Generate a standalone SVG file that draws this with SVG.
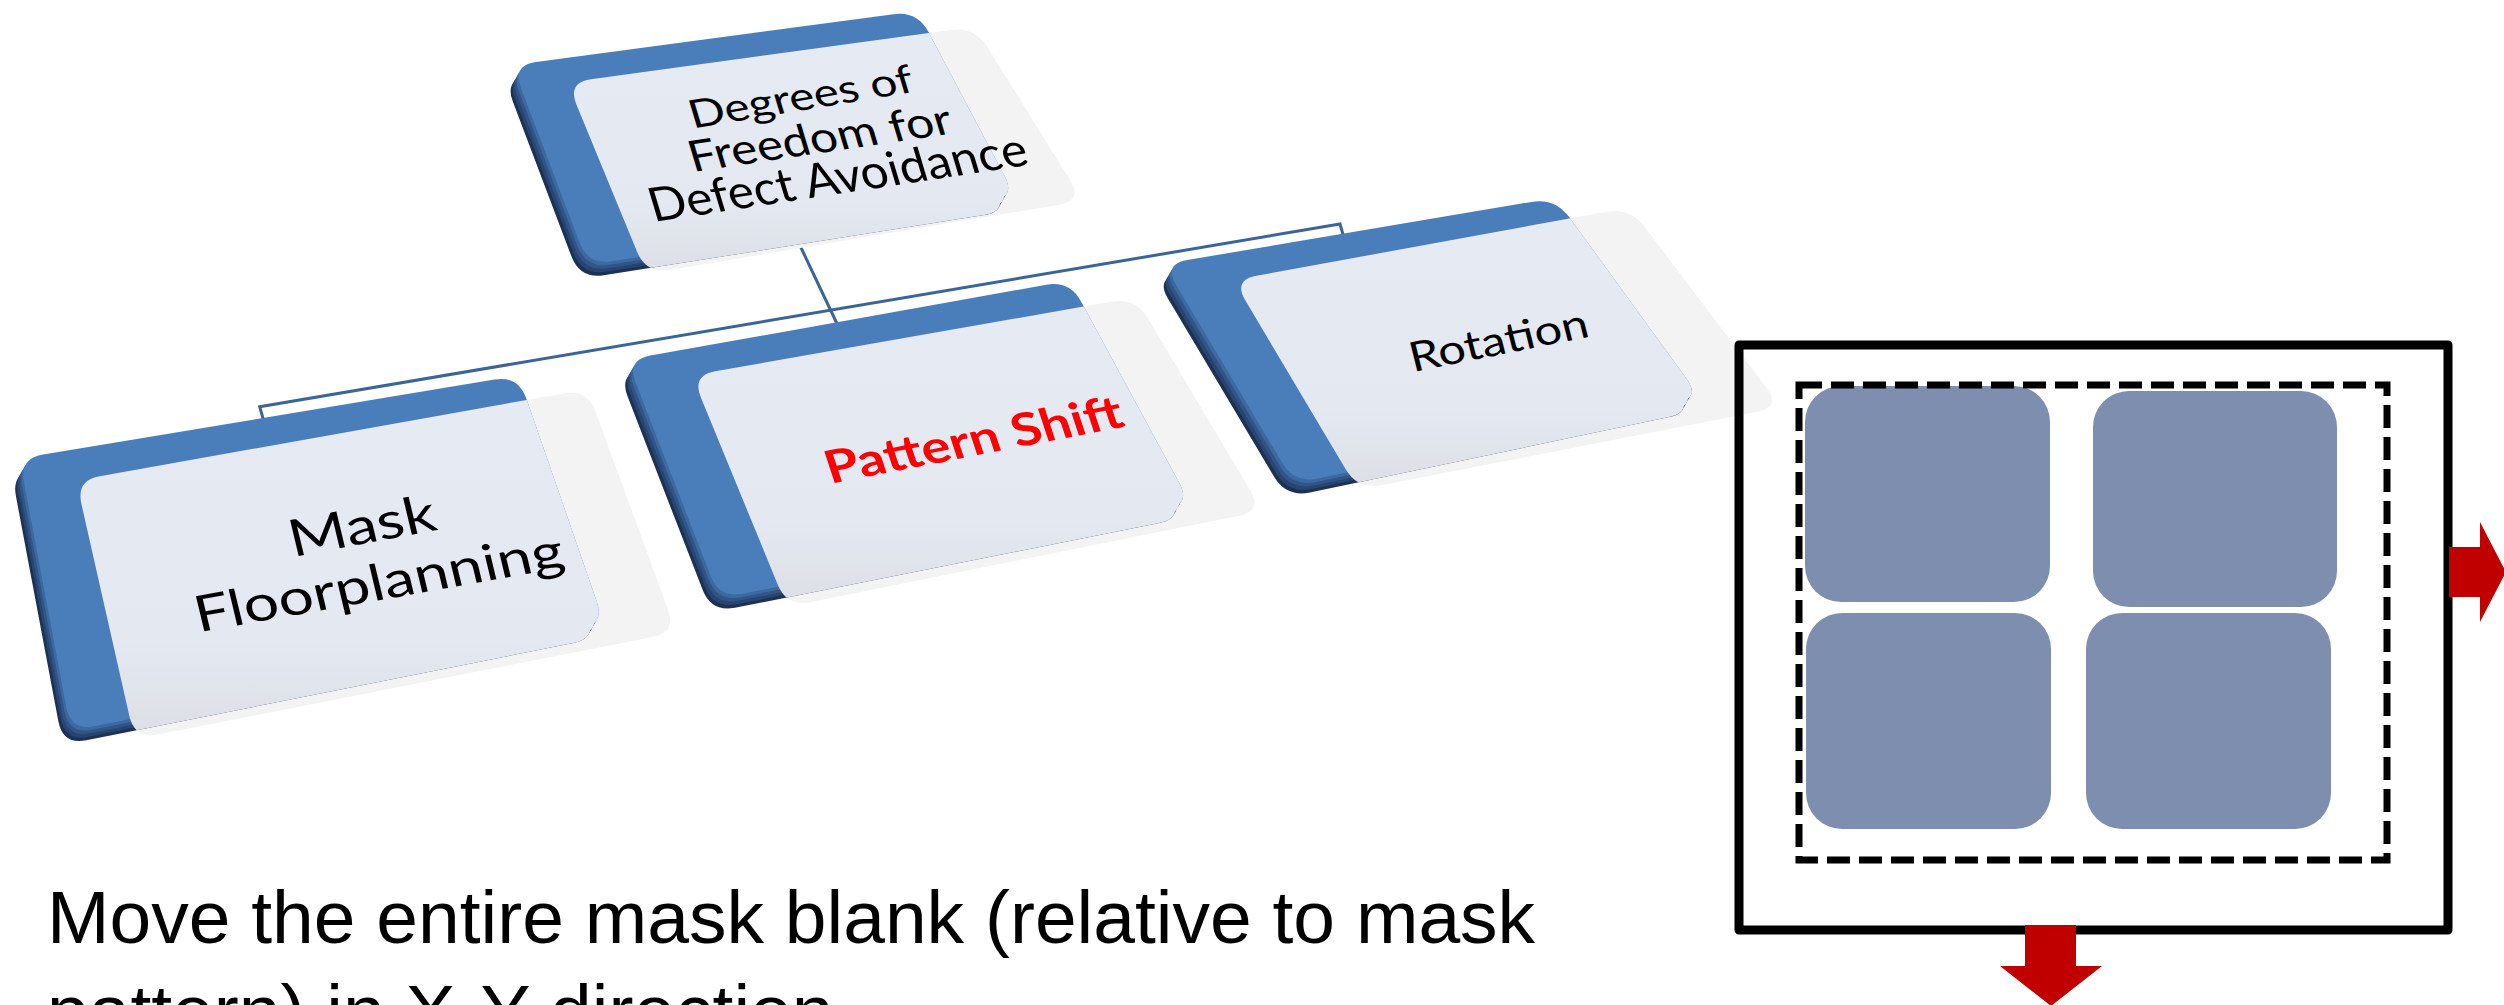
<svg xmlns="http://www.w3.org/2000/svg" xmlns:xlink="http://www.w3.org/1999/xlink" width="2504" height="1005" viewBox="0 0 2504 1005">
  <defs>
    <style>
      .plate-gray { fill: #F3F3F3; }
      .plate-face { fill: url(#faceGrad); }
      .x4 { fill: #1D3253; }
      .x3 { fill: #284470; }
      .x2 { fill: #315587; }
      .x1 { fill: #3C69A0; }
      .cap { fill: #4A7EBB; }
      .lbl { font-family: Lato, "Open Sans", "Noto Sans", sans-serif; text-anchor: middle; fill: #000000; }
      .hot { fill: #FF0000; font-weight: 700; }
      .conn { stroke: #3B6597; stroke-width: 3; fill: none; stroke-linejoin: miter; }
      .die { fill: #7E8EAF; }
      .push { fill: #C00000; }
      .caption { font-family: "Liberation Sans", Arial, sans-serif; font-size: 75px; fill: #000000; }
    </style>
    <linearGradient id="faceGrad" x1="0" y1="0" x2="0" y2="1">
      <stop offset="0" stop-color="#E6EBF3"/>
      <stop offset="0.72" stop-color="#E4E9F1"/>
      <stop offset="1" stop-color="#DCDFE5"/>
    </linearGradient>

    <!-- key-cap top faces and glass plates, one pair per node -->
    <path id="face-top" d="M536.1,62 L893.6,14.2 Q917.4,11 928.6,32.2 L1004.6,176.1 Q1015.8,197.3 992.1,201.1 L611.7,261.3 Q588,265 579.5,242.6 L520.8,87.6 Q512.3,65.2 536.1,62 Z"/>
    <path id="plate-top" d="M591.1,79.3 L950.9,29.9 Q974.7,26.6 987.4,47 L1070.1,180.3 Q1082.7,200.7 1059,204.7 L669.9,270 Q646.2,274 637.1,251.8 L576.5,104.8 Q567.3,82.6 591.1,79.3 Z"/>
    <path id="face-mask" d="M43.1,454.5 L494.6,379.5 Q518.3,375.6 526.2,398.3 L596.8,601.7 Q604.7,624.4 581.2,629.1 L94.4,726.3 Q70.9,731 66.4,707.4 L23.9,482 Q19.4,458.4 43.1,454.5 Z"/>
    <path id="plate-mask" d="M99.7,476.3 L563.7,393.4 Q587.3,389.2 595.6,411.7 L668.1,609.7 Q676.4,632.2 652.9,636.9 L158.1,734.6 Q134.6,739.2 129.3,715.8 L81.4,503.9 Q76.1,480.5 99.7,476.3 Z"/>
    <path id="face-shift" d="M650.4,355.6 L1046.2,284.8 Q1069.8,280.6 1081.2,301.7 L1179.4,483.2 Q1190.8,504.3 1167.3,509 L742.9,593.8 Q719.4,598.5 710.7,576.1 L635.5,382.2 Q626.8,359.8 650.4,355.6 Z"/>
    <path id="plate-shift" d="M715.4,371.2 L1111.8,301.6 Q1135.4,297.4 1147.7,318 L1250.2,490.3 Q1262.5,510.9 1239,515.7 L810.4,602.2 Q786.9,606.9 777.8,584.7 L700.9,397.6 Q691.8,375.4 715.4,371.2 Z"/>
    <path id="face-rot" d="M1187.3,260 L1531.5,201.9 Q1555.2,197.9 1569.3,217.3 L1686.5,378.8 Q1700.6,398.2 1677.1,403.1 L1317.9,478.5 Q1294.4,483.4 1282.1,462.8 L1175.9,284.6 Q1163.6,264 1187.3,260 Z"/>
    <path id="plate-rot" d="M1256.7,275.7 L1606.4,211.8 Q1630,207.5 1644.5,226.6 L1766.5,388.1 Q1781,407.2 1757.5,411.8 L1381.6,485.2 Q1358,489.8 1345.7,469.2 L1245.4,300.6 Q1233.1,280 1256.7,275.7 Z"/>

    <!-- whole key silhouettes (cap plus extrusion), used to tint the plates -->
    <clipPath id="clip-top">
      <use href="#face-top"/><use href="#face-top" transform="translate(-4,7)"/><use href="#face-top" transform="translate(-8,14)"/>
    </clipPath>
    <clipPath id="clip-mask">
      <use href="#face-mask"/><use href="#face-mask" transform="translate(-4,7)"/><use href="#face-mask" transform="translate(-8,14)"/>
    </clipPath>
    <clipPath id="clip-shift">
      <use href="#face-shift"/><use href="#face-shift" transform="translate(-4,7)"/><use href="#face-shift" transform="translate(-8,14)"/>
    </clipPath>
    <clipPath id="clip-rot">
      <use href="#face-rot"/><use href="#face-rot" transform="translate(-4,7)"/><use href="#face-rot" transform="translate(-8,14)"/>
    </clipPath>
  </defs>

  <rect x="0" y="0" width="2504" height="1005" fill="#FFFFFF"/>

  <!-- hierarchy connectors (drawn under the keys) -->
  <g id="connectors" class="conn">
    <path d="M795,235 L840,330"/>
    <path d="M264,422 L259.7,406.7 L1340,224 L1344,238"/>
  </g>

  <!-- root node -->
  <g id="node-root">
    <use href="#plate-top" class="plate-gray"/>
    <use href="#face-top" class="x4" transform="translate(-8,14)"/>
    <use href="#face-top" class="x3" transform="translate(-6,10.5)"/>
    <use href="#face-top" class="x2" transform="translate(-4,7)"/>
    <use href="#face-top" class="x1" transform="translate(-2,3.5)"/>
    <use href="#face-top" class="cap"/>
    <use href="#plate-top" class="plate-face" clip-path="url(#clip-top)"/>
    <text class="lbl" font-size="38" transform="matrix(1,-0.166,0.3,1,804.5,110)" textLength="223" lengthAdjust="spacingAndGlyphs">Degrees of</text>
    <text class="lbl" font-size="42" transform="matrix(1,-0.148,0.3,1,823.9,152.5)" textLength="262" lengthAdjust="spacingAndGlyphs">Freedom for</text>
    <text class="lbl" font-size="46" transform="matrix(1,-0.152,0.3,1,842.3,193.3)" textLength="377" lengthAdjust="spacingAndGlyphs">Defect Avoidance</text>
  </g>

  <!-- child: Mask Floorplanning -->
  <g id="node-mask-floorplanning">
    <use href="#plate-mask" class="plate-gray"/>
    <use href="#face-mask" class="x4" transform="translate(-8,14)"/>
    <use href="#face-mask" class="x3" transform="translate(-6,10.5)"/>
    <use href="#face-mask" class="x2" transform="translate(-4,7)"/>
    <use href="#face-mask" class="x1" transform="translate(-2,3.5)"/>
    <use href="#face-mask" class="cap"/>
    <use href="#plate-mask" class="plate-face" clip-path="url(#clip-mask)"/>
    <text class="lbl" font-size="50" transform="matrix(1,-0.187,0.24,1,366,543.3)" textLength="146" lengthAdjust="spacingAndGlyphs">Mask</text>
    <text class="lbl" font-size="49" transform="matrix(1,-0.178,0.24,1,382.8,599.5)" textLength="368" lengthAdjust="spacingAndGlyphs">Floorplanning</text>
  </g>

  <!-- child: Pattern Shift (highlighted) -->
  <g id="node-pattern-shift">
    <use href="#plate-shift" class="plate-gray"/>
    <use href="#face-shift" class="x4" transform="translate(-8,14)"/>
    <use href="#face-shift" class="x3" transform="translate(-6,10.5)"/>
    <use href="#face-shift" class="x2" transform="translate(-4,7)"/>
    <use href="#face-shift" class="x1" transform="translate(-2,3.5)"/>
    <use href="#face-shift" class="cap"/>
    <use href="#plate-shift" class="plate-face" clip-path="url(#clip-shift)"/>
    <text class="lbl hot" font-size="44" transform="matrix(1,-0.194,0.33,1,978.4,455)" textLength="296" lengthAdjust="spacingAndGlyphs">Pattern Shift</text>
  </g>

  <!-- child: Rotation -->
  <g id="node-rotation">
    <use href="#plate-rot" class="plate-gray"/>
    <use href="#face-rot" class="x4" transform="translate(-8,14)"/>
    <use href="#face-rot" class="x3" transform="translate(-6,10.5)"/>
    <use href="#face-rot" class="x2" transform="translate(-4,7)"/>
    <use href="#face-rot" class="x1" transform="translate(-2,3.5)"/>
    <use href="#face-rot" class="cap"/>
    <use href="#plate-rot" class="plate-face" clip-path="url(#clip-rot)"/>
    <text class="lbl" font-size="40" transform="matrix(1,-0.201,0.25,1,1502,354.2)" textLength="178" lengthAdjust="spacingAndGlyphs">Rotation</text>
  </g>

  <!-- mask blank with pattern area and shift arrows -->
  <g id="mask-blank">
    <rect class="die" x="1805" y="386" width="245" height="216" rx="36" ry="36"/>
    <rect class="die" x="2093" y="391" width="244" height="216" rx="36" ry="36"/>
    <rect class="die" x="1806" y="613" width="245" height="216" rx="36" ry="36"/>
    <rect class="die" x="2086" y="613" width="245" height="216" rx="36" ry="36"/>
    <rect x="1799" y="385" width="588" height="475" fill="none" stroke="#000000" stroke-width="7" stroke-dasharray="23 9"/>
    <rect x="1739" y="345" width="709" height="585" fill="none" stroke="#000000" stroke-width="9" stroke-linejoin="round"/>
    <polygon class="push" points="2449,547 2480,547 2480,522 2506,572 2480,622 2480,597 2449,597"/>
    <polygon class="push" points="2025,925 2076,925 2076,966 2102,966 2051,1006 2000,966 2025,966"/>
  </g>

  <g id="caption">
    <text class="caption" x="47" y="942.7">Move the entire mask blank (relative to mask</text>
    <text class="caption" x="47" y="1037">pattern) in X-Y direction</text>
  </g>
</svg>
